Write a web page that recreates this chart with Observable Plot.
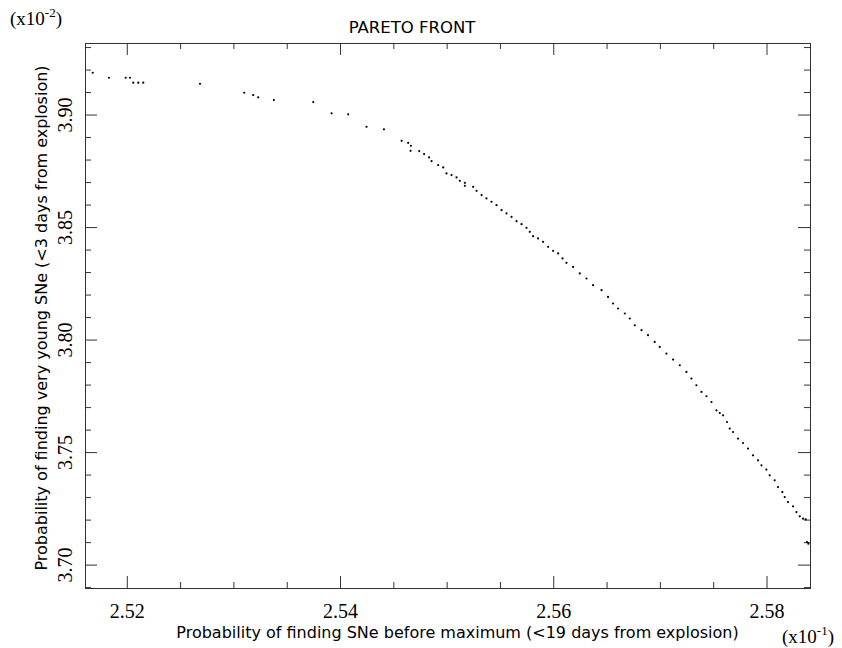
<!DOCTYPE html>
<html>
<head>
<meta charset="utf-8">
<script src="https://cdn.jsdelivr.net/npm/d3@7"></script>
<script src="https://cdn.jsdelivr.net/npm/@observablehq/plot@0.6"></script>
<style>
  html, body { margin: 0; padding: 0; background: #fff; }
  #chart { width: 842px; height: 648px; }
</style>
</head>
<body>
<div id="chart"></div>
<script>
// Probability of finding SNe before maximum (x10^-1)
const probBeforeMax = [
  2.51676,2.51828,2.51985,2.52025,2.52056,2.52103,2.52150,2.52682,2.53097,2.53181,
  2.53228,2.53375,2.53744,2.53916,2.54072,2.54244,2.54407,2.54573,2.54634,2.54660,
  2.54657,2.54738,2.54784,2.54831,2.54854,2.54916,2.54963,2.54994,2.55041,2.55088,
  2.55119,2.55166,2.55166,2.55244,2.55276,2.55323,2.55369,2.55416,2.55463,2.55510,
  2.55557,2.55604,2.55651,2.55698,2.55744,2.55775,2.55806,2.55853,2.55900,2.55947,
  2.55994,2.56041,2.56082,2.56119,2.56181,2.56244,2.56307,2.56369,2.56448,2.56509,
  2.56556,2.56603,2.56666,2.56713,2.56760,2.56823,2.56884,2.56947,2.56994,2.57057,
  2.57119,2.57182,2.57244,2.57291,2.57338,2.57385,2.57432,2.57479,2.57526,2.57557,
  2.57588,2.57625,2.57650,2.57681,2.57728,2.57775,2.57822,2.57869,2.57916,2.57948,
  2.57994,2.58025,2.58072,2.58103,2.58144,2.58166,2.58197,2.58244,2.58276,2.58307,
  2.58338,2.58363,2.58375,2.58388
];
// Probability of finding very young SNe (x10^-2)
const probVeryYoung = [
  3.91881,3.91659,3.91659,3.91659,3.91437,3.91437,3.91437,3.91392,3.90992,3.90889,
  3.90787,3.90667,3.90578,3.90076,3.90031,3.89480,3.89364,3.88857,3.88768,3.88635,
  3.88412,3.88399,3.88266,3.88119,3.87954,3.87776,3.87674,3.87407,3.87332,3.87229,
  3.87078,3.86989,3.86856,3.86811,3.86633,3.86442,3.86295,3.86144,3.85997,3.85775,
  3.85628,3.85477,3.85286,3.85152,3.84988,3.84810,3.84619,3.84516,3.84365,3.84143,
  3.83965,3.83849,3.83627,3.83431,3.83253,3.82960,3.82737,3.82439,3.82217,3.81919,
  3.81626,3.81403,3.81181,3.80958,3.80660,3.80438,3.80216,3.79918,3.79695,3.79402,
  3.79135,3.78882,3.78584,3.78290,3.77992,3.77694,3.77503,3.77249,3.76880,3.76760,
  3.76658,3.76360,3.76066,3.75915,3.75622,3.75426,3.75177,3.74879,3.74656,3.74434,
  3.74243,3.73989,3.73767,3.73469,3.73247,3.73024,3.72802,3.72611,3.72357,3.72166,
  3.72064,3.72032,3.71023,3.70952
];

const xDomain = [2.51608, 2.58408];
const yDomain = [3.6896, 3.9318];
const xMajor = [2.52, 2.54, 2.56, 2.58];
const xMinor = [2.525, 2.53, 2.535, 2.545, 2.55, 2.555, 2.565, 2.57, 2.575];
const yMajor = [3.70, 3.75, 3.80, 3.85, 3.90];
const yMinor = [3.69, 3.71, 3.72, 3.73, 3.74, 3.76, 3.77, 3.78, 3.79, 3.81, 3.82, 3.83, 3.84, 3.86, 3.87, 3.88, 3.89, 3.91, 3.92, 3.93];

const titleText = "PARETO FRONT";
const xLabel = "Probability of finding SNe before maximum (<19 days from explosion)";
const yLabel = "Probability of finding very young SNe (<3 days from explosion)";

const points = probBeforeMax.map((x, i) => ({x, y: probVeryYoung[i]}));

const W = 842, H = 648;
const mL = 85, mR = 32, mT = 43, mB = 60;
const fw = W - mL - mR, fh = H - mT - mB;
const majLen = 12, minLen = 6;
const axisColor = "#333";
const serif = "'Liberation Serif', 'DejaVu Serif', serif";
const sans = "'DejaVu Sans', sans-serif";

const svg = Plot.plot({
  width: W,
  height: H,
  marginLeft: mL, marginRight: mR, marginTop: mT, marginBottom: mB,
  x: {domain: xDomain, axis: null},
  y: {domain: yDomain, axis: null},
  style: {background: "#fff"},
  marks: [
    Plot.frame({stroke: axisColor, strokeWidth: 1}),
    // bottom ticks
    Plot.tickX(xMajor, {x: d => d, insetTop: fh - majLen, stroke: axisColor}),
    Plot.tickX(xMinor, {x: d => d, insetTop: fh - minLen, stroke: axisColor}),
    // top ticks
    Plot.tickX(xMajor, {x: d => d, insetBottom: fh - majLen, stroke: axisColor}),
    Plot.tickX(xMinor, {x: d => d, insetBottom: fh - minLen, stroke: axisColor}),
    // left ticks
    Plot.tickY(yMajor, {y: d => d, insetRight: fw - majLen, stroke: axisColor}),
    Plot.tickY(yMinor, {y: d => d, insetRight: fw - minLen, stroke: axisColor}),
    // right ticks
    Plot.tickY(yMajor, {y: d => d, insetLeft: fw - majLen, stroke: axisColor}),
    Plot.tickY(yMinor, {y: d => d, insetLeft: fw - minLen, stroke: axisColor}),
    // tick labels
    Plot.text(xMajor, {x: d => d, text: d => d.toFixed(2), frameAnchor: "bottom",
      textAnchor: "middle", lineAnchor: "bottom", dy: 29, fontSize: 20, fontFamily: serif, fill: "#000"}),
    Plot.text(yMajor, {y: d => d, text: d => d.toFixed(2), frameAnchor: "left",
      textAnchor: "middle", rotate: -90, lineAnchor: "bottom", dx: -14, fontSize: 20, fontFamily: serif, fill: "#000"}),
    // axis titles
    Plot.text([xLabel], {text: d => d, frameAnchor: "bottom", textAnchor: "middle", lineAnchor: "bottom",
      dx: 9.5, dy: 49, fontSize: 16, fontFamily: sans, fill: "#000"}),
    Plot.text([yLabel], {text: d => d, frameAnchor: "left", textAnchor: "middle", rotate: -90, lineAnchor: "bottom",
      dx: -39, dy: 2, fontSize: 16, fontFamily: sans, fill: "#000"}),
    // data
    Plot.dot(points, {x: "x", y: "y", r: 1.1, fill: "#000", stroke: "none"})
  ]
});

const s = d3.select(svg);
s.append("text")
  .attr("x", 412).attr("y", 33.3)
  .attr("text-anchor", "middle")
  .attr("font-family", sans).attr("font-size", 16.5).attr("fill", "#000")
  .text(titleText);

function multiplier(x, y, exp) {
  const t = s.append("text")
    .attr("x", x).attr("y", y)
    .attr("text-anchor", "start")
    .attr("font-family", serif).attr("font-size", 19).attr("fill", "#000");
  t.append("tspan").text("(x10");
  t.append("tspan").attr("font-size", 13).attr("dy", -8).text(exp);
  t.append("tspan").attr("dy", 8).text(")");
}
multiplier(10, 25, "-2");
multiplier(782, 643, "-1");

document.getElementById("chart").appendChild(svg);
</script>
</body>
</html>
